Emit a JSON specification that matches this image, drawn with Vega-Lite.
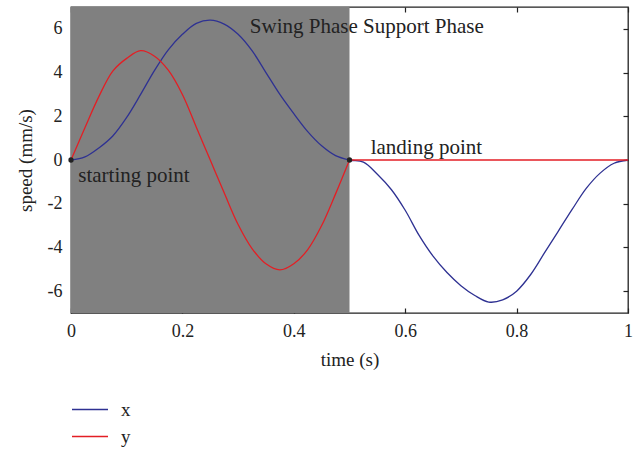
{
  "$schema": "https://vega.github.io/schema/vega-lite/v6.json",
  "width": 557,
  "height": 306,
  "autosize": {"type": "none"},
  "padding": {"left": 71, "top": 7, "right": 16, "bottom": 137},
  "background": "white",
  "config": {
    "view": {"stroke": "#222222", "strokeWidth": 1.3},
    "font": "Liberation Serif",
    "axis": {
      "grid": false,
      "domain": false,
      "ticks": true,
      "tickSize": -5,
      "tickColor": "#222222",
      "tickWidth": 1.2,
      "labelFont": "Liberation Serif",
      "labelFontSize": 18,
      "labelColor": "#222222",
      "labelFlush": false,
      "titleFont": "Liberation Serif",
      "titleFontSize": 19,
      "titleFontWeight": "normal",
      "titleColor": "#222222"
    },
    "legend": {
      "labelFont": "Liberation Serif",
      "labelFontSize": 18,
      "labelColor": "#222222"
    }
  },
  "datasets": {
    "curves": [
      {"t": 0, "v": 0, "series": "x", "part": "x1"},
      {"t": 0.025, "v": 0.14, "series": "x", "part": "x1"},
      {"t": 0.05, "v": 0.55, "series": "x", "part": "x1"},
      {"t": 0.075, "v": 1.1, "series": "x", "part": "x1"},
      {"t": 0.1, "v": 1.95, "series": "x", "part": "x1"},
      {"t": 0.125, "v": 3.0, "series": "x", "part": "x1"},
      {"t": 0.15, "v": 4.1, "series": "x", "part": "x1"},
      {"t": 0.175, "v": 5.05, "series": "x", "part": "x1"},
      {"t": 0.2, "v": 5.75, "series": "x", "part": "x1"},
      {"t": 0.225, "v": 6.25, "series": "x", "part": "x1"},
      {"t": 0.25, "v": 6.4, "series": "x", "part": "x1"},
      {"t": 0.275, "v": 6.22, "series": "x", "part": "x1"},
      {"t": 0.3, "v": 5.75, "series": "x", "part": "x1"},
      {"t": 0.325, "v": 5.0, "series": "x", "part": "x1"},
      {"t": 0.35, "v": 4.0, "series": "x", "part": "x1"},
      {"t": 0.375, "v": 3.0, "series": "x", "part": "x1"},
      {"t": 0.4, "v": 2.12, "series": "x", "part": "x1"},
      {"t": 0.425, "v": 1.3, "series": "x", "part": "x1"},
      {"t": 0.45, "v": 0.65, "series": "x", "part": "x1"},
      {"t": 0.475, "v": 0.2, "series": "x", "part": "x1"},
      {"t": 0.5, "v": 0, "series": "x", "part": "x1"},
      {"t": 0.525, "v": -0.1, "series": "x", "part": "x1"},
      {"t": 0.55, "v": -0.65, "series": "x", "part": "x1"},
      {"t": 0.575, "v": -1.35, "series": "x", "part": "x1"},
      {"t": 0.6, "v": -2.3, "series": "x", "part": "x1"},
      {"t": 0.625, "v": -3.45, "series": "x", "part": "x1"},
      {"t": 0.65, "v": -4.4, "series": "x", "part": "x1"},
      {"t": 0.675, "v": -5.15, "series": "x", "part": "x1"},
      {"t": 0.7, "v": -5.75, "series": "x", "part": "x1"},
      {"t": 0.725, "v": -6.2, "series": "x", "part": "x1"},
      {"t": 0.75, "v": -6.5, "series": "x", "part": "x1"},
      {"t": 0.775, "v": -6.4, "series": "x", "part": "x1"},
      {"t": 0.8, "v": -6.0, "series": "x", "part": "x1"},
      {"t": 0.825, "v": -5.25, "series": "x", "part": "x1"},
      {"t": 0.85, "v": -4.25, "series": "x", "part": "x1"},
      {"t": 0.875, "v": -3.25, "series": "x", "part": "x1"},
      {"t": 0.9, "v": -2.25, "series": "x", "part": "x1"},
      {"t": 0.925, "v": -1.3, "series": "x", "part": "x1"},
      {"t": 0.95, "v": -0.6, "series": "x", "part": "x1"},
      {"t": 0.975, "v": -0.15, "series": "x", "part": "x1"},
      {"t": 1.0, "v": 0, "series": "x", "part": "x1"},
      {"t": 0, "v": 0, "series": "y", "part": "y1"},
      {"t": 0.025, "v": 1.48, "series": "y", "part": "y1"},
      {"t": 0.05, "v": 2.9, "series": "y", "part": "y1"},
      {"t": 0.075, "v": 4.07, "series": "y", "part": "y1"},
      {"t": 0.1, "v": 4.65, "series": "y", "part": "y1"},
      {"t": 0.125, "v": 5.0, "series": "y", "part": "y1"},
      {"t": 0.15, "v": 4.75, "series": "y", "part": "y1"},
      {"t": 0.175, "v": 4.1, "series": "y", "part": "y1"},
      {"t": 0.2, "v": 3.0, "series": "y", "part": "y1"},
      {"t": 0.225, "v": 1.5, "series": "y", "part": "y1"},
      {"t": 0.25, "v": 0, "series": "y", "part": "y1"},
      {"t": 0.275, "v": -1.5, "series": "y", "part": "y1"},
      {"t": 0.3, "v": -2.95, "series": "y", "part": "y1"},
      {"t": 0.325, "v": -4.05, "series": "y", "part": "y1"},
      {"t": 0.35, "v": -4.75, "series": "y", "part": "y1"},
      {"t": 0.375, "v": -5.03, "series": "y", "part": "y1"},
      {"t": 0.4, "v": -4.75, "series": "y", "part": "y1"},
      {"t": 0.425, "v": -4.1, "series": "y", "part": "y1"},
      {"t": 0.45, "v": -3.0, "series": "y", "part": "y1"},
      {"t": 0.475, "v": -1.55, "series": "y", "part": "y1"},
      {"t": 0.5, "v": 0, "series": "y", "part": "y1"},
      {"t": 0.5, "v": 0, "series": "y", "part": "y2"},
      {"t": 1.0, "v": 0, "series": "y", "part": "y2"}
    ],
    "phase": [{"t0": 0, "t1": 0.5}],
    "dots": [{"t": 0, "v": 0}, {"t": 0.5, "v": 0}],
    "notes": [
      {"t": 0.321, "v": 6.1, "label": "Swing Phase Support Phase"},
      {"t": 0.538, "v": 0.55, "label": "landing point"},
      {"t": 0.013, "v": -0.75, "label": "starting point"}
    ]
  },
  "resolve": {"axis": {"x": "independent", "y": "independent"}},
  "layer": [
    {
      "data": {"name": "phase"},
      "mark": {"type": "rect", "color": "#808080"},
      "encoding": {
        "x": {"field": "t0", "type": "quantitative", "scale": {"domain": [0, 1], "nice": false}, "axis": null},
        "x2": {"field": "t1"}
      }
    },
    {
      "data": {"name": "curves"},
      "mark": {"type": "line", "strokeWidth": 1.3, "interpolate": "catmull-rom"},
      "encoding": {
        "x": {
          "field": "t", "type": "quantitative",
          "scale": {"domain": [0, 1], "nice": false},
          "axis": {"orient": "bottom", "values": [0, 0.2, 0.4, 0.6, 0.8, 1], "labelExpr": "datum.value", "labelFlush": false, "title": "time (s)", "labelPadding": 14, "titlePadding": 10, "labelFont": "Liberation Serif", "labelFontSize": 18, "titleFont": "Liberation Serif", "titleFontSize": 19}
        },
        "y": {
          "field": "v", "type": "quantitative",
          "scale": {"domain": [-7, 7], "nice": false},
          "axis": {"orient": "left", "values": [-6, -4, -2, 0, 2, 4, 6], "labelExpr": "datum.value", "labelFlush": false, "title": "speed (mm/s)", "labelPadding": 14, "titlePadding": 12, "labelFont": "Liberation Serif", "labelFontSize": 18, "titleFont": "Liberation Serif", "titleFontSize": 19}
        },
        "detail": {"field": "part", "type": "nominal"},
        "color": {
          "field": "series", "type": "nominal",
          "scale": {"domain": ["x", "y"], "range": ["#2e3192", "#e31e24"]},
          "legend": {
            "title": null,
            "orient": "none",
            "legendX": 0,
            "legendY": 389,
            "direction": "vertical",
            "symbolType": "stroke",
            "symbolSize": 1296,
            "symbolStrokeWidth": 1.5,
            "labelOffset": 12,
            "rowPadding": 0,
            "clipHeight": 27,
            "labelFont": "Liberation Serif",
            "labelFontSize": 19
          }
        }
      }
    },
    {
      "data": {"name": "dots"},
      "mark": {"type": "circle", "color": "#222222", "opacity": 1, "size": 28},
      "encoding": {
        "x": {"field": "t", "type": "quantitative", "axis": {"orient": "top", "values": [0, 0.2, 0.4, 0.6, 0.8, 1], "labels": false, "title": null}},
        "y": {"field": "v", "type": "quantitative", "axis": {"orient": "right", "values": [-6, -4, -2, 0, 2, 4, 6], "labels": false, "title": null}}
      }
    },
    {
      "data": {"name": "notes"},
      "mark": {"type": "text", "align": "left", "baseline": "middle", "font": "Liberation Serif", "fontSize": 21, "color": "#222222"},
      "encoding": {
        "x": {"field": "t", "type": "quantitative", "axis": null},
        "y": {"field": "v", "type": "quantitative", "axis": null},
        "text": {"field": "label"}
      }
    }
  ]
}
